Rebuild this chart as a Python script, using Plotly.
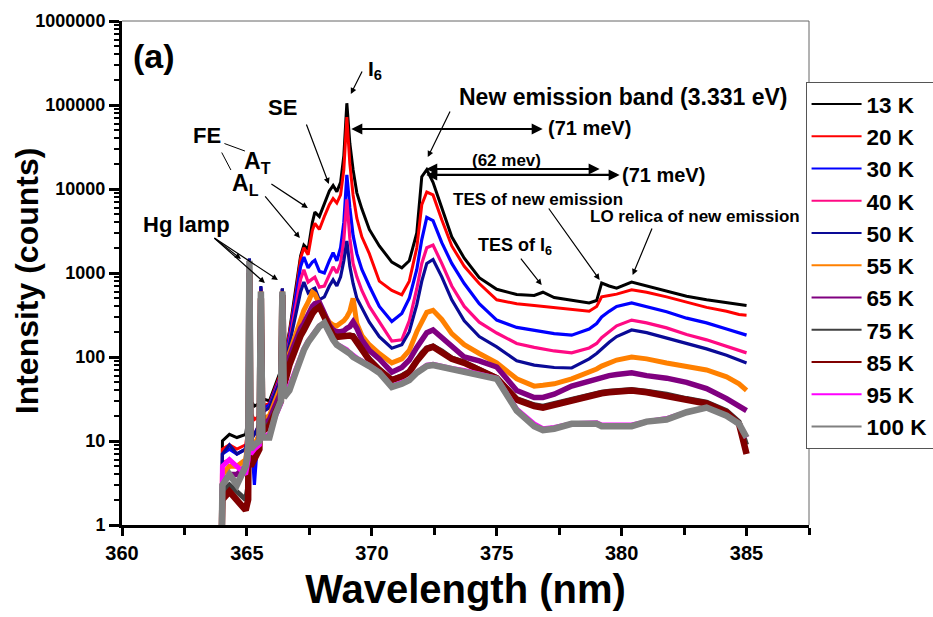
import plotly.graph_objects as go

# ---------------- data ----------------
wavelength = [364.00, 364.02, 364.30, 364.60, 364.95, 365.05, 365.10, 365.15, 365.30, 365.50,
              365.56, 365.62, 365.90, 366.15, 366.36, 366.42, 366.48, 366.70, 366.95, 367.15,
              367.28, 367.45, 367.62, 367.72, 367.90, 368.10, 368.30, 368.45, 368.60, 368.75,
              368.88, 369.00, 369.12, 369.25, 369.40, 369.60, 369.90, 370.30, 370.80, 371.20,
              371.50, 371.80, 372.00, 372.20, 372.45, 372.80, 373.20, 373.70, 374.30, 375.00,
              375.80, 376.50, 376.85, 377.30, 378.00, 378.70, 379.00, 379.20, 379.50, 379.80,
              380.40, 381.00, 381.80, 382.60, 383.40, 384.20, 384.70, 385.00]

temps = ["13 K", "20 K", "30 K", "40 K", "50 K", "55 K", "65 K", "75 K", "85 K", "95 K", "100 K"]
colors = ["#000000", "#ff0000", "#0000ff", "#ff0a84", "#0a0a96", "#ff8000",
          "#800080", "#404040", "#800000", "#ff00ff", "#808080"]
widths = [3, 3, 3.2, 3.2, 3.2, 5, 5.5, 5, 6.5, 5, 6.5]

i_13K = [1, 10, 12, 11, 12, 20, 1400, 30, 26, 28,
         650, 32, 30, 48, 70, 650, 95, 200, 600, 1600,
         2150, 1900, 4000, 5300, 4700, 6800, 9500, 11000, 9300, 12000,
         25000, 105000, 35000, 17000, 9000, 5800, 3300, 2100, 1350, 1150,
         1400, 3000, 14000, 17000, 12000, 6000, 2700, 1500, 880, 640,
         555, 540, 590, 510, 470, 440, 470, 760, 700, 660,
         780, 700, 600, 530, 480, 440, 420, 410]
i_20K = [1, 8, 9, 8, 9, 15, 1400, 22, 18, 20,
         650, 26, 28, 45, 65, 650, 90, 190, 550, 1500,
         2000, 1650, 3200, 3900, 3300, 4700, 6500, 7700, 6800, 8500,
         17000, 72000, 20000, 8500, 4500, 2700, 1700, 800, 620, 550,
         800, 2000, 6500, 9200, 8500, 4300, 2100, 1200, 750, 480,
         430, 410, 400, 380, 365, 350, 400, 520, 540, 560,
         630, 590, 520, 450, 390, 350, 320, 315]
i_30K = [1, 7, 8, 7, 8, 12, 1450, 15, 3, 20,
         680, 24, 27, 42, 60, 640, 85, 170, 480, 1200,
         1550, 1150, 1350, 1420, 1050, 1000, 1400, 1740, 1400, 2000,
         4000, 14700, 6000, 2800, 1700, 1100, 700, 400, 265, 330,
         500, 1100, 2500, 4600, 4200, 2300, 1300, 750, 430, 275,
         225, 210, 200, 190, 182, 215, 250, 300, 350, 400,
         440, 400, 345, 290, 255, 215, 195, 182]
i_40K = [1, 5.5, 6, 5, 6, 10, 1400, 12, 12, 16,
         660, 22, 25, 40, 58, 640, 80, 150, 380, 850,
         1090, 780, 850, 890, 680, 700, 950, 1180, 1000, 1300,
         2500, 7500, 2600, 1300, 900, 620, 400, 260, 155, 160,
         270, 650, 1300, 2000, 2150, 1300, 700, 400, 260, 193,
         145, 130, 125, 118, 112, 128, 145, 170, 200, 235,
         275, 255, 222, 185, 160, 135, 120, 112]
i_50K = [1, 7, 9, 7, 8, 12, 1500, 10, 12, 16,
         700, 22, 25, 38, 55, 660, 75, 140, 300, 600,
         780, 580, 640, 660, 480, 520, 700, 830, 700, 900,
         1400, 2400, 1200, 750, 500, 380, 260, 175, 127, 140,
         200, 420, 800, 1300, 1450, 900, 480, 270, 175, 132,
         90, 80, 78, 75, 74, 95, 110, 125, 150, 175,
         210, 195, 168, 145, 125, 105, 92, 85]
i_55K = [1, 4, 5, 5, 6, 10, 1200, 8, 9, 12,
         600, 18, 20, 32, 45, 600, 60, 110, 190, 290,
         360, 450, 590, 560, 420, 320, 260, 240, 235, 250,
         270, 300, 350, 500, 250, 180, 140, 110, 85, 95,
         120, 200, 270, 340, 360, 280, 190, 140, 110, 85,
         55, 45, 46, 48, 55, 65, 72, 78, 85, 92,
         100, 95, 85, 78, 70, 58, 48, 40]
i_65K = [1, 3, 4, 4, 5, 8, 1100, 7, 8, 10,
         550, 15, 18, 28, 38, 580, 55, 100, 160, 220,
         250, 330, 400, 430, 445, 330, 240, 210, 200, 200,
         205, 220, 230, 262, 220, 160, 120, 95, 66, 75,
         92, 130, 165, 195, 210, 170, 130, 100, 90, 76,
         40, 33, 33, 36, 45, 52, 55, 57, 60, 62,
         65, 60, 56, 50, 42, 32, 26, 23]
i_75K = [1, 2.5, 3, 2.5, 2, 3, 1000, 6, 7, 9,
         510, 14, 16, 24, 32, 560, 48, 85, 135, 190,
         220, 280, 340, 370, 400, 305, 215, 185, 175, 178,
         178, 182, 182, 180, 155, 122, 95, 72, 54, 60,
         68, 92, 112, 128, 135, 118, 97, 87, 72, 57,
         32, 27, 26, 28, 31, 36, 37, 38, 39, 40,
         41, 39, 36, 32, 29, 23, 17, 9]
i_85K = [1, 2, 2.5, 2, 1.5, 2, 1000, 5, 6, 8,
         500, 13, 15, 22, 30, 550, 45, 80, 130, 180,
         210, 270, 330, 360, 395, 300, 210, 180, 173, 175,
         175, 180, 180, 175, 150, 120, 92, 70, 53, 58,
         66, 90, 110, 125, 132, 115, 95, 85, 70, 56,
         31, 26, 25, 27, 30, 35, 36, 37, 38, 39,
         40, 38, 35, 31, 28, 22, 16, 7]
i_95K = [1, 5, 6, 5, 4, 6, 1300, 7, 8, 9,
         580, 11, 12, 20, 28, 590, 35, 45, 70, 105,
         125, 155, 185, 205, 235, 250, 190, 160, 142, 134,
         127, 122, 112, 104, 97, 90, 79, 66, 45, 49,
         54, 66, 73, 80, 82, 77, 73, 69, 63, 56,
         24, 16, 14, 14.5, 16, 16.5, 16.5, 15.5, 15.5, 15.5,
         15.5, 17, 18.5, 22, 25, 20, 16, 11]
i_100K = [1, 3, 4, 3, 5, 8, 1400, 8, 9, 10,
          600, 11, 11, 21, 30, 600, 33, 40, 65, 100,
          121, 150, 180, 200, 230, 255, 190, 160, 140, 132,
          125, 120, 110, 100, 95, 90, 78, 65, 44, 48,
          53, 65, 72, 78, 80, 76, 72, 68, 62, 55,
          23, 15, 13.5, 14, 16, 16, 16, 15, 15, 15,
          15, 17, 18, 22, 25, 20, 16, 11]

series = [i_13K, i_20K, i_30K, i_40K, i_50K, i_55K, i_65K, i_75K, i_85K, i_95K, i_100K]

x_ticks = [360, 365, 370, 375, 380, 385]
y_ticks = [1, 10, 100, 1000, 10000, 100000, 1000000]
y_tick_labels = ["1", "10", "100", "1000", "10000", "100000", "1000000"]

# ---------------- figure ----------------
FONT = "Liberation Sans, Arial, sans-serif"
fig = go.Figure()
for name, vals, col, w in zip(temps, series, colors, widths):
    fig.add_trace(go.Scatter(x=wavelength, y=vals, mode="lines", name=name,
                             legendgroup=name, showlegend=False,
                             line=dict(color=col, width=w)))
# legend entries drawn with thin lines (as in the reference key)
for name, col in zip(temps, colors):
    fig.add_trace(go.Scatter(x=[None], y=[None], mode="lines", name=name,
                             legendgroup=name, showlegend=True,
                             line=dict(color=col, width=2)))

fig.update_layout(
    width=933, height=617,
    margin=dict(l=122, r=124, t=21, b=92, autoexpand=False),
    paper_bgcolor="white", plot_bgcolor="white",
    font=dict(family=FONT, color="black", weight="bold"),
    showlegend=True,
    legend=dict(x=0.995, xanchor="left", y=0.879, yanchor="top",
                bgcolor="white", bordercolor="#555", borderwidth=1,
                font=dict(size=22.5, family=FONT, weight="bold", color="black"),
                itemwidth=50, tracegroupgap=0),
)
fig.update_xaxes(range=[360, 387.5], tickmode="array", tickvals=x_ticks,
                 ticks="outside", ticklen=8, tickwidth=2.5, tickcolor="black",
                 showline=True, linewidth=3, linecolor="black",
                 showgrid=False, zeroline=False,
                 tickfont=dict(size=20, family=FONT, weight="bold"),
                 minor=dict(tickmode="linear", tick0=360, dtick=2.5, ticks="outside",
                            ticklen=7, tickwidth=2.5, tickcolor="black", showgrid=False),
                 title=dict(text="Wavelength (nm)", standoff=12,
                            font=dict(size=40, family=FONT, weight="bold")))
fig.update_yaxes(type="log", range=[0, 6], tickmode="array", tickvals=y_ticks,
                 ticktext=y_tick_labels,
                 ticks="outside", ticklen=10, tickwidth=2.5, tickcolor="black",
                 showline=True, linewidth=3, linecolor="black",
                 showgrid=False, zeroline=False,
                 tickfont=dict(size=18, family=FONT, weight="bold"),
                 minor=dict(dtick="D1", ticks="outside", ticklen=5, tickwidth=1.5,
                            tickcolor="black", showgrid=False))

# thin frame on top and right
fig.add_shape(type="line", xref="paper", yref="paper", x0=0, x1=1, y0=1, y1=1,
              line=dict(color="#666", width=1))
fig.add_shape(type="line", xref="paper", yref="paper", x0=1, x1=1, y0=0, y1=1,
              line=dict(color="#666", width=1))

# y-axis title and panel label
fig.add_annotation(xref="paper", yref="paper", x=-0.138, y=0.484, text="Intensity (counts)",
                   textangle=-90, showarrow=False, xanchor="center", yanchor="middle",
                   font=dict(size=32, family=FONT, weight="bold"))
fig.add_annotation(xref="paper", yref="paper", x=0.0466, y=0.93, text="(a)", showarrow=False,
                   xanchor="center", yanchor="middle",
                   font=dict(size=34, family=FONT, weight="bold"))

# text labels (wavelength, log10 intensity, text, size)
labels = [
    (366.44, 4.976, "SE", 22),
    (363.40, 4.640, "FE", 22),
    (365.44, 4.310, "A<sub>T</sub>", 23),
    (364.96, 4.050, "A<sub>L</sub>", 23),
    (362.60, 3.583, "Hg lamp", 22),
    (370.12, 5.417, "I<sub>6</sub>", 21),
    (380.08, 5.095, "New emission band (3.331 eV)", 23),
    (378.72, 4.726, "(71 meV)", 20),
    (375.40, 4.345, "(62 mev)", 17),
    (381.68, 4.167, "(71 meV)", 20),
    (376.64, 3.881, "TES of new emission", 17),
    (382.92, 3.667, "LO relica of new emission", 17),
    (375.72, 3.321, "TES of I<sub>6</sub>", 18),
]
for lx, ly, txt, sz in labels:
    fig.add_annotation(x=lx, y=ly, xref="x", yref="y", text=txt, showarrow=False,
                       xanchor="center", yanchor="middle",
                       font=dict(size=sz, family=FONT, weight="bold", color="black"))

# arrows: head (x, log y), tail (x, log y), head style, width, sides
arrows = [
    (369.16, 5.131, 369.64, 5.417, 2, 1.2, "end"),
    (368.28, 4.060, 367.36, 4.786, 2, 1.2, "end"),
    (367.44, 3.774, 365.92, 4.071, 2, 1.2, "end"),
    (367.12, 3.417, 365.68, 3.929, 2, 1.2, "end"),
    (364.92, 4.452, 364.04, 4.548, 0, 1.0, "end"),
    (364.36, 4.226, 363.96, 4.452, 0, 1.0, "end"),
    (364.76, 3.167, 363.64, 3.429, 2, 1.2, "end"),
    (365.72, 2.881, 363.64, 3.429, 2, 1.2, "end"),
    (366.24, 2.917, 363.64, 3.429, 2, 1.2, "end"),
    (372.24, 4.380, 373.16, 4.940, 2, 1.2, "end"),
    (376.84, 4.714, 369.12, 4.714, 2, 2.2, "end+start"),
    (379.12, 4.238, 372.12, 4.238, 2, 2.2, "end+start"),
    (379.92, 4.167, 372.12, 4.167, 2, 2.2, "end+start"),
    (379.12, 2.917, 377.04, 3.786, 2, 1.2, "end"),
    (380.44, 2.976, 381.24, 3.548, 2, 1.2, "end"),
    (376.80, 2.857, 375.92, 3.190, 2, 1.2, "end"),
]
for hx, hy, tx, ty, head, aw, side in arrows:
    fig.add_annotation(x=hx, y=hy, ax=tx, ay=ty, xref="x", yref="y", axref="x", ayref="y",
                       text="", showarrow=True, arrowhead=head, arrowsize=1,
                       arrowwidth=aw, arrowcolor="black", arrowside=side, startarrowhead=head,
                       startarrowsize=1)

fig.write_html("out.html")
